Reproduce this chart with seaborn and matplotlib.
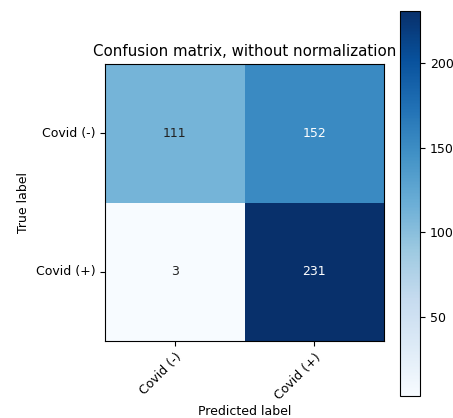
import numpy as np
import pandas as pd
import seaborn as sns
import matplotlib
matplotlib.use("Agg")
import matplotlib.pyplot as plt

classes = ["Covid (-)", "Covid (+)"]
row_neg = [111, 152]
row_pos = [3, 231]

cm = pd.DataFrame([row_neg, row_pos], index=classes, columns=classes)

plt.rcParams['font.family'] = ['DejaVu Sans']
plt.rcParams['font.size'] = 9

fig = plt.figure(figsize=(4.53, 4.18), dpi=100)
ax = fig.add_axes([105/453, 1-341/418, 279/453, 277/418])
cax = fig.add_axes([400/453, 1-396/418, 20/453, 385/418])

sns.heatmap(cm, ax=ax, cbar_ax=cax, cmap="Blues", annot=True, fmt="d",
            annot_kws={"fontsize": 9}, square=False, linewidths=0)

thresh = cm.values.max() / 2.0
for t in ax.texts:
    v = int(t.get_text())
    t.set_color("white" if v > thresh else "#222222")

for s in ax.spines.values():
    s.set_visible(True)
    s.set_linewidth(0.8)
cb = ax.collections[0].colorbar
cb.outline.set_visible(True)
cb.outline.set_linewidth(0.8)
cb.set_ticks([50, 100, 150, 200])
cax.tick_params(labelsize=9, length=3.5, width=0.8)

ax.tick_params(axis='both', length=3.5, width=0.8, labelsize=9)
ax.set_xticklabels(classes, rotation=45, ha="right", rotation_mode="anchor")
ax.set_yticklabels(classes, rotation=0)
ax.set_title("Confusion matrix, without normalization", fontsize=10.8)
ax.set_ylabel("True label", fontsize=9)
ax.set_xlabel("Predicted label", fontsize=9, labelpad=2)

fig.savefig("out.png", dpi=100)
